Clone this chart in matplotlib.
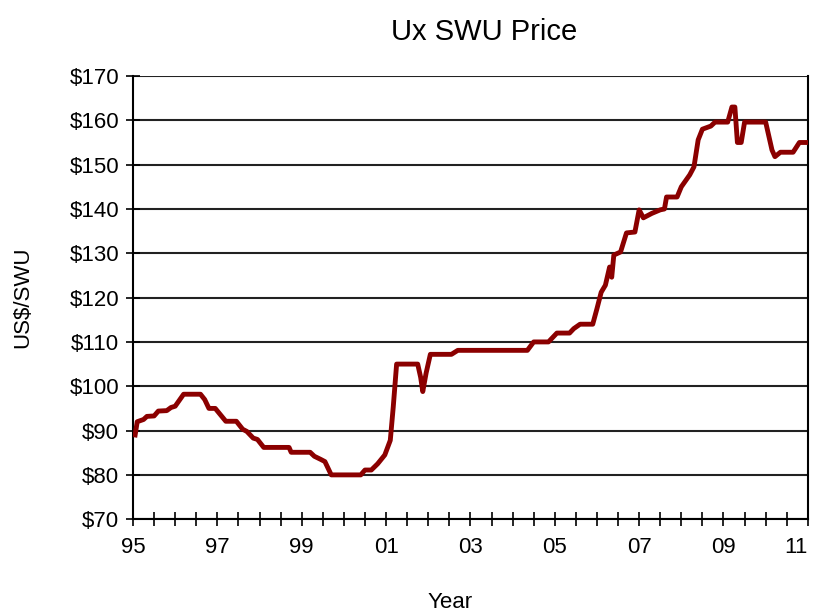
import matplotlib.pyplot as plt
from matplotlib.ticker import MultipleLocator, FixedLocator, FuncFormatter

# Ux SWU price (decimal year, US$/SWU)
years = [1995.05, 1995.1, 1995.25, 1995.33, 1995.5, 1995.6, 1995.8, 1995.9, 1996.0,
         1996.2, 1996.6, 1996.7, 1996.8, 1996.95, 1997.2, 1997.45, 1997.6, 1997.7,
         1997.85, 1997.95, 1998.1, 1998.7, 1998.75, 1999.2, 1999.3, 1999.45, 1999.55,
         1999.7, 2000.4, 2000.5, 2000.65, 2000.8, 2000.97, 2001.1, 2001.17, 2001.25,
         2001.75, 2001.82, 2001.87, 2001.95, 2002.05, 2002.55, 2002.7, 2004.35, 2004.5,
         2004.85, 2005.05, 2005.35, 2005.45, 2005.6, 2005.9, 2006.0, 2006.1, 2006.2,
         2006.3, 2006.35, 2006.4, 2006.56, 2006.7, 2006.9, 2007.0, 2007.1, 2007.3,
         2007.5, 2007.6, 2007.65, 2007.9, 2008.0, 2008.2, 2008.3, 2008.4, 2008.5,
         2008.7, 2008.8, 2009.1, 2009.2, 2009.27, 2009.33, 2009.42, 2009.5, 2010.0,
         2010.15, 2010.22, 2010.35, 2010.65, 2010.8, 2011.0]
price = [89, 92, 92.5, 93.2, 93.3, 94.4, 94.5, 95.2, 95.5,
         98.2, 98.2, 97, 95, 95, 92.1, 92.1, 90.3, 89.8,
         88.3, 88, 86.2, 86.2, 85.1, 85.1, 84.2, 83.5, 83,
         80, 80, 81.1, 81.1, 82.5, 84.5, 87.8, 95.3, 105,
         105, 102, 98.8, 103, 107.2, 107.2, 108.1, 108.1, 110,
         110, 112, 112, 113, 114, 114, 117.5, 121.2, 122.8,
         126.9, 124.6, 129.6, 130.3, 134.6, 134.8, 139.8, 138, 139,
         139.8, 140, 142.7, 142.7, 145, 147.7, 149.5, 155.6, 158,
         158.7, 159.6, 159.6, 163, 163, 155, 155, 159.6, 159.6,
         153.3, 151.8, 152.8, 152.8, 155, 155]

yticks = list(range(70, 171, 10))
xticks = list(range(1995, 2012, 2))

plt.rcParams['font.family'] = ['Liberation Sans', 'DejaVu Sans']

fig = plt.figure(figsize=(8.16, 6.13), dpi=100)
ax = fig.add_axes([0.163, 0.153, 0.827, 0.723])

# Horizontal gridlines
for y in yticks:
    ax.axhline(y, color='#222222', linewidth=1.5, zorder=1)

ax.plot(years, price, color='#8B0000', linewidth=3.5, solid_joinstyle='round', zorder=3)

ax.set_xlim(1995, 2011)
ax.set_ylim(70, 170)
ax.set_yticks(yticks)
ax.yaxis.set_major_formatter(FuncFormatter(lambda v, p: '$%d' % v))
ax.xaxis.set_major_locator(FixedLocator(xticks))
ax.xaxis.set_minor_locator(MultipleLocator(0.5))
ax.xaxis.set_major_formatter(FuncFormatter(lambda v, p: '%02d' % (int(round(v)) % 100)))

ax.tick_params(axis='both', which='both', direction='inout', color='black', width=1.2)
ax.tick_params(axis='x', which='both', length=10, labelsize=16, pad=8)
ax.tick_params(axis='y', which='major', length=10, labelsize=16, pad=5)

# keep the last year label inside the figure
fig.canvas.draw()
ax.get_xticklabels()[-1].set_horizontalalignment('right')

for s in ax.spines.values():
    s.set_linewidth(1.5)
ax.spines['top'].set_visible(False)

ax.set_title('Ux SWU Price', fontsize=21, pad=26, x=0.52)
ax.set_xlabel('Year', fontsize=16, labelpad=24, x=0.47)
ax.set_ylabel('US$/SWU', fontsize=16, labelpad=26)

fig.savefig('out.png', dpi=100)
